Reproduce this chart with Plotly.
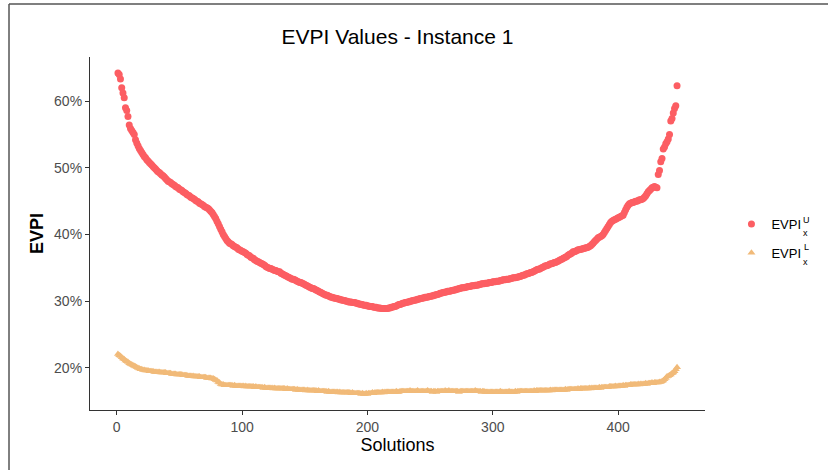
import plotly.graph_objects as go

# Solutions index
solutions = list(range(1, 448))

# EVPI upper (U) values, percent
evpi_u = [
    64.2, 64.0, 63.3, 62.0, 61.2, 60.5, 59.0, 58.6, 57.7, 56.4,
    55.9, 55.6, 55.3, 55.0, 54.2, 53.7, 53.3, 52.9, 52.6, 52.3,
    52.0, 51.7, 51.5, 51.2, 51.0, 50.8, 50.6, 50.4, 50.2, 50.0,
    49.8, 49.6, 49.4, 49.3, 49.1, 48.9, 48.8, 48.6, 48.4, 48.2,
    48.0, 47.9, 47.8, 47.6, 47.5, 47.4, 47.2, 47.1, 47.0, 46.8,
    46.7, 46.6, 46.4, 46.3, 46.2, 46.0, 45.9, 45.8, 45.6, 45.5,
    45.4, 45.3, 45.1, 45.0, 44.9, 44.7, 44.6, 44.5, 44.4, 44.2,
    44.1, 44.0, 43.9, 43.7, 43.5, 43.3, 43.0, 42.7, 42.4, 42.0,
    41.6, 41.2, 40.8, 40.4, 40.0, 39.7, 39.4, 39.1, 38.9, 38.7,
    38.6, 38.5, 38.3, 38.2, 38.1, 38.0, 37.8, 37.7, 37.6, 37.5,
    37.4, 37.3, 37.2, 37.0, 36.9, 36.8, 36.6, 36.5, 36.4, 36.2,
    36.1, 36.0, 35.9, 35.8, 35.7, 35.6, 35.5, 35.4, 35.2, 35.1,
    35.0, 34.9, 34.9, 34.8, 34.7, 34.6, 34.6, 34.5, 34.4, 34.4,
    34.2, 34.1, 34.0, 33.9, 33.8, 33.7, 33.6, 33.5, 33.4, 33.3,
    33.3, 33.2, 33.1, 33.0, 32.9, 32.8, 32.8, 32.7, 32.6, 32.5,
    32.4, 32.3, 32.2, 32.1, 32.0, 31.9, 31.9, 31.8, 31.7, 31.6,
    31.5, 31.4, 31.3, 31.2, 31.1, 31.0, 30.9, 30.9, 30.8, 30.7,
    30.6, 30.6, 30.5, 30.5, 30.4, 30.4, 30.3, 30.3, 30.2, 30.2,
    30.1, 30.1, 30.0, 30.0, 29.9, 29.9, 29.9, 29.8, 29.8, 29.8,
    29.7, 29.7, 29.6, 29.6, 29.5, 29.5, 29.4, 29.4, 29.4, 29.3,
    29.3, 29.2, 29.2, 29.2, 29.1, 29.1, 29.1, 29.0, 29.0, 29.0,
    28.9, 28.9, 28.9, 28.9, 28.9, 28.9, 29.0, 29.0, 29.1, 29.1,
    29.2, 29.2, 29.3, 29.4, 29.5, 29.5, 29.6, 29.7, 29.7, 29.8,
    29.8, 29.9, 29.9, 30.0, 30.0, 30.1, 30.1, 30.2, 30.2, 30.3,
    30.3, 30.4, 30.4, 30.5, 30.5, 30.6, 30.6, 30.6, 30.7, 30.7,
    30.8, 30.8, 30.9, 30.9, 31.0, 31.0, 31.1, 31.2, 31.2, 31.3,
    31.3, 31.4, 31.4, 31.5, 31.5, 31.5, 31.6, 31.6, 31.7, 31.7,
    31.8, 31.8, 31.9, 31.9, 32.0, 32.0, 32.0, 32.1, 32.1, 32.2,
    32.2, 32.2, 32.3, 32.3, 32.3, 32.4, 32.4, 32.4, 32.5, 32.5,
    32.6, 32.6, 32.6, 32.7, 32.7, 32.7, 32.8, 32.8, 32.8, 32.9,
    32.9, 32.9, 33.0, 33.0, 33.0, 33.1, 33.1, 33.2, 33.2, 33.2,
    33.3, 33.3, 33.3, 33.4, 33.4, 33.5, 33.5, 33.5, 33.6, 33.6,
    33.7, 33.7, 33.8, 33.9, 33.9, 34.0, 34.1, 34.1, 34.2, 34.3,
    34.3, 34.4, 34.5, 34.6, 34.7, 34.8, 34.8, 34.9, 35.0, 35.1,
    35.2, 35.3, 35.3, 35.4, 35.5, 35.6, 35.6, 35.7, 35.8, 35.8,
    35.9, 36.0, 36.1, 36.2, 36.3, 36.4, 36.5, 36.6, 36.7, 36.9,
    37.0, 37.1, 37.2, 37.4, 37.4, 37.5, 37.6, 37.7, 37.7, 37.8,
    37.8, 37.9, 37.9, 38.0, 38.0, 38.1, 38.2, 38.3, 38.5, 38.7,
    38.9, 39.1, 39.3, 39.5, 39.6, 39.7, 39.8, 40.0, 40.3, 40.6,
    40.9, 41.2, 41.5, 41.8, 42.0, 42.1, 42.2, 42.3, 42.4, 42.5,
    42.6, 42.7, 42.8, 42.9, 43.3, 43.7, 44.1, 44.4, 44.6, 44.7,
    44.8, 44.8, 44.9, 45.0, 45.0, 45.1, 45.2, 45.2, 45.3, 45.4,
    45.6, 45.8, 46.1, 46.4, 46.6, 46.8, 47.0, 47.1, 47.2, 47.1,
    47.0, 49.0, 49.6, 50.9, 51.4, 52.8, 53.1, 53.6, 53.9, 54.3,
    55.0, 57.0, 57.4, 58.2, 58.9, 59.3, 62.3,
]

# EVPI lower (L) values, percent
evpi_l = [
    22.1, 21.9, 21.8, 21.6, 21.4, 21.3, 21.1, 21.0, 20.9, 20.7,
    20.6, 20.5, 20.4, 20.3, 20.2, 20.1, 20.0, 19.9, 19.8, 19.8,
    19.7, 19.7, 19.6, 19.6, 19.6, 19.5, 19.5, 19.5, 19.5, 19.4,
    19.4, 19.4, 19.4, 19.4, 19.3, 19.3, 19.3, 19.3, 19.3, 19.2,
    19.2, 19.2, 19.2, 19.1, 19.1, 19.1, 19.1, 19.0, 19.0, 19.0,
    19.0, 19.0, 18.9, 18.9, 18.9, 18.9, 18.8, 18.8, 18.8, 18.8,
    18.8, 18.7, 18.7, 18.7, 18.7, 18.7, 18.6, 18.6, 18.6, 18.6,
    18.6, 18.5, 18.5, 18.5, 18.5, 18.4, 18.4, 18.3, 18.2, 18.1,
    17.9, 17.8, 17.6, 17.5, 17.5, 17.4, 17.4, 17.4, 17.4, 17.4,
    17.4, 17.4, 17.3, 17.4, 17.3, 17.3, 17.3, 17.3, 17.3, 17.3,
    17.3, 17.2, 17.3, 17.2, 17.2, 17.2, 17.2, 17.2, 17.2, 17.1,
    17.2, 17.1, 17.1, 17.1, 17.1, 17.1, 17.0, 17.1, 17.0, 17.0,
    17.0, 17.0, 17.0, 17.0, 16.9, 17.0, 16.9, 16.9, 16.9, 16.9,
    16.9, 16.9, 16.9, 16.9, 16.8, 16.9, 16.8, 16.8, 16.8, 16.8,
    16.8, 16.8, 16.7, 16.8, 16.7, 16.7, 16.7, 16.7, 16.7, 16.7,
    16.6, 16.7, 16.6, 16.6, 16.6, 16.6, 16.6, 16.6, 16.6, 16.5,
    16.6, 16.5, 16.5, 16.5, 16.5, 16.5, 16.5, 16.4, 16.5, 16.4,
    16.4, 16.4, 16.4, 16.4, 16.4, 16.4, 16.3, 16.4, 16.3, 16.3,
    16.3, 16.3, 16.3, 16.3, 16.3, 16.3, 16.2, 16.3, 16.2, 16.2,
    16.2, 16.2, 16.2, 16.2, 16.1, 16.2, 16.1, 16.1, 16.2, 16.1,
    16.2, 16.2, 16.2, 16.3, 16.2, 16.3, 16.3, 16.3, 16.3, 16.3,
    16.3, 16.4, 16.3, 16.4, 16.4, 16.4, 16.4, 16.4, 16.4, 16.4,
    16.4, 16.4, 16.5, 16.4, 16.4, 16.5, 16.5, 16.5, 16.5, 16.5,
    16.5, 16.5, 16.5, 16.6, 16.5, 16.5, 16.5, 16.5, 16.5, 16.6,
    16.5, 16.5, 16.5, 16.5, 16.5, 16.5, 16.5, 16.6, 16.5, 16.5,
    16.5, 16.4, 16.5, 16.5, 16.4, 16.5, 16.5, 16.5, 16.5, 16.5,
    16.5, 16.6, 16.5, 16.5, 16.6, 16.5, 16.5, 16.5, 16.5, 16.5,
    16.5, 16.5, 16.4, 16.5, 16.5, 16.5, 16.5, 16.5, 16.5, 16.5,
    16.5, 16.5, 16.5, 16.5, 16.5, 16.6, 16.5, 16.5, 16.5, 16.5,
    16.4, 16.5, 16.5, 16.4, 16.4, 16.4, 16.4, 16.4, 16.4, 16.4,
    16.4, 16.4, 16.4, 16.4, 16.4, 16.5, 16.4, 16.4, 16.4, 16.4,
    16.4, 16.4, 16.5, 16.4, 16.4, 16.4, 16.4, 16.5, 16.4, 16.5,
    16.5, 16.5, 16.5, 16.5, 16.5, 16.5, 16.5, 16.5, 16.5, 16.5,
    16.5, 16.5, 16.6, 16.5, 16.6, 16.6, 16.6, 16.6, 16.6, 16.6,
    16.6, 16.6, 16.6, 16.6, 16.6, 16.7, 16.6, 16.7, 16.7, 16.7,
    16.7, 16.7, 16.7, 16.7, 16.7, 16.7, 16.7, 16.8, 16.7, 16.8,
    16.8, 16.8, 16.8, 16.8, 16.8, 16.8, 16.8, 16.9, 16.8, 16.9,
    16.9, 16.9, 16.9, 16.9, 16.9, 16.9, 17.0, 16.9, 17.0, 17.0,
    17.0, 17.0, 17.0, 17.0, 17.1, 17.0, 17.1, 17.1, 17.1, 17.1,
    17.1, 17.1, 17.2, 17.2, 17.2, 17.2, 17.2, 17.3, 17.2, 17.3,
    17.3, 17.3, 17.3, 17.4, 17.3, 17.4, 17.4, 17.4, 17.4, 17.5,
    17.5, 17.5, 17.5, 17.5, 17.5, 17.6, 17.5, 17.6, 17.6, 17.6,
    17.6, 17.7, 17.6, 17.7, 17.7, 17.7, 17.8, 17.7, 17.8, 17.8,
    17.8, 17.8, 17.9, 17.9, 18.0, 18.1, 18.3, 18.5, 18.7, 18.8,
    18.9, 19.0, 19.2, 19.3, 19.5, 19.8, 20.1,
]

x_ticks = [0, 100, 200, 300, 400]
y_ticks = [20, 30, 40, 50, 60]
y_tick_labels = ["20%", "30%", "40%", "50%", "60%"]

RED = "#FC5E63"
TAN = "#F1BA79"
FONT = "Liberation Sans, Arial, sans-serif"
AXIS = "#333333"
TICKTXT = "#4D4D4D"

fig = go.Figure()
fig.add_trace(go.Scatter(
    x=solutions, y=evpi_u, mode="markers", name="EVPI",
    legendgroup="u",
    marker=dict(symbol="circle", size=7, color=RED, line=dict(width=0)),
))
fig.add_trace(go.Scatter(
    x=solutions, y=evpi_l, mode="markers", name="EVPI",
    legendgroup="l",
    marker=dict(symbol="triangle-up", size=7, color=TAN, line=dict(width=0)),
))

span = solutions[-1] - solutions[0]
ymin = min(evpi_l)
ymax = max(evpi_u)
yspan = ymax - ymin

fig.update_layout(
    width=828, height=470,
    margin=dict(l=90, r=123, t=57, b=60),
    paper_bgcolor="white", plot_bgcolor="white",
    font=dict(family=FONT, color="black"),
    title=dict(text="EVPI Values - Instance 1", x=0.5, xref="paper",
               xanchor="center", y=1 - 37 / 470, yref="container",
               yanchor="middle", font=dict(size=21, color="black")),
    showlegend=True,
    legend=dict(x=1.043, xanchor="left", y=0.486, yanchor="middle",
                font=dict(size=13, color="black"), tracegroupgap=9,
                bgcolor="rgba(0,0,0,0)"),
    xaxis=dict(range=[solutions[0] - 0.05 * span, solutions[-1] + 0.05 * span],
               tickvals=x_ticks, ticks="outside", ticklen=4, tickcolor=AXIS,
               tickwidth=1, showline=True, linecolor=AXIS, linewidth=1.2,
               showgrid=False, zeroline=False,
               tickfont=dict(size=14, color=TICKTXT),
               title=dict(text="Solutions", font=dict(size=18, color="black"),
                          standoff=4)),
    yaxis=dict(range=[ymin - 0.05 * yspan, ymax + 0.05 * yspan],
               tickmode="array", tickvals=y_ticks, ticktext=y_tick_labels,
               ticks="outside", ticklen=4,
               tickcolor=AXIS, tickwidth=1, showline=True, linecolor=AXIS,
               linewidth=1.2, showgrid=False, zeroline=False,
               tickfont=dict(size=14, color=TICKTXT),
               title=dict(text="<b>EVPI</b>", font=dict(size=18, color="black"),
                          standoff=5)),
)

# outer frame (left and top edges visible in the reference)
fig.add_shape(type="line", xref="paper", yref="paper",
              x0=-0.1317, x1=-0.1317, y0=-0.3, y1=1.150,
              line=dict(color="#555555", width=1.5))
fig.add_shape(type="line", xref="paper", yref="paper",
              x0=-0.1317, x1=1.3, y0=1.150, y1=1.150,
              line=dict(color="#555555", width=1.5))

# legend super/subscripts
for sup, yc_sup, yc_sub in [("U", 220.0, 233.0), ("L", 246.5, 262.0)]:
    fig.add_annotation(text=sup, xref="paper", yref="paper",
                       x=(806 - 90) / 615, y=(410 - yc_sup) / 353,
                       xanchor="center", yanchor="middle", showarrow=False,
                       font=dict(size=9, color="black"))
    fig.add_annotation(text="x", xref="paper", yref="paper",
                       x=(805 - 90) / 615, y=(410 - yc_sub) / 353,
                       xanchor="center", yanchor="middle", showarrow=False,
                       font=dict(size=9, color="black"))

fig.write_html("out.html")
